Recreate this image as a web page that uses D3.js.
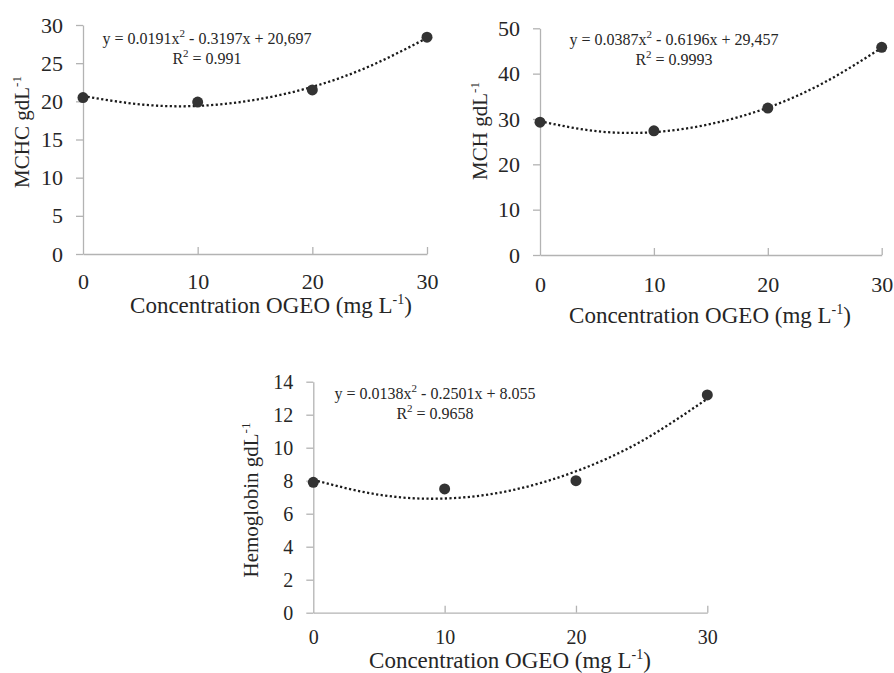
<!DOCTYPE html>
<html>
<head>
<meta charset="utf-8">
<script src="https://cdn.jsdelivr.net/npm/d3@7"></script>
<style>
  body { margin: 0; background: #fff; }
  svg { display: block; font-family: "Liberation Serif", "Times New Roman", serif; }
</style>
</head>
<body>
<svg id="chart" width="894" height="673"></svg>
<script>
// concentrations (mg L-1)
const concentrations = [0, 10, 20, 30];
const xTicks = [0, 10, 20, 30];

const mchcValues = [20.5, 19.9, 21.5, 28.4];
const mchValues = [29.3, 27.4, 32.4, 45.8];
const hemoValues = [7.9, 7.5, 8.0, 13.2];

// trendline, read at every 5 mg L-1
const trendX = [0, 5, 10, 15, 20, 25, 30];
const mchcTrend = [20.7, 19.6, 19.4, 20.2, 21.9, 24.6, 28.3];
const mchTrend = [29.5, 27.3, 27.1, 28.9, 32.5, 38.1, 45.7];
const hemoTrend = [8.05, 7.15, 6.92, 7.4, 8.57, 10.4, 12.97];

const mchcTicks = [0, 5, 10, 15, 20, 25, 30];
const mchTicks = [0, 10, 20, 30, 40, 50];
const hemoTicks = [0, 2, 4, 6, 8, 10, 12, 14];

const mchcEquation = ["0.0191", "0.3197", "20,697", "0.991"];
const mchEquation = ["0.0387", "0.6196", "29,457", "0.9993"];
const hemoEquation = ["0.0138", "0.2501", "8.055", "0.9658"];

const svg = d3.select("#chart");
const axisColor = "#b3b3b3";
const textColor = "#262626";

const panels = [
    { name: "MCHC", values: mchcValues, trend: mchcTrend, ticks: mchcTicks, eq: mchcEquation,
      x0: 83, x1: 427, y0: 254, y1: 25, tickFont: 22, titleX: 22, titleY: 132,
      titleCX: 271, titleBase: 313, eqX: 207, eqY: 44, xPad: 19 },
    { name: "MCH", values: mchValues, trend: mchTrend, ticks: mchTicks, eq: mchEquation,
      x0: 540, x1: 881.7, y0: 255, y1: 28.3, tickFont: 22, titleX: 480, titleY: 131,
      titleCX: 710, titleBase: 323, eqX: 674, eqY: 45, xPad: 21 },
    { name: "Hemoglobin", values: hemoValues, trend: hemoTrend, ticks: hemoTicks, eq: hemoEquation,
      x0: 313.3, x1: 707.3, y0: 612.7, y1: 381.7, tickFont: 20, titleX: 251, titleY: 500,
      titleCX: 510, titleBase: 668, eqX: 435, eqY: 399, xPad: 17 }
];

panels.forEach(p => drawPanel(p));

function drawPanel(p) {
    const scX = d3.scaleLinear().domain([0, 30]).range([p.x0, p.x1]);
    const scY = d3.scaleLinear().domain([0, d3.max(p.ticks)]).range([p.y0, p.y1]);

    const g = svg.append("g");

    // y axis
    const gy = g.append("g")
        .attr("transform", `translate(${p.x0},0)`)
        .call(d3.axisLeft(scY).tickValues(p.ticks).tickSize(7).tickSizeOuter(0).tickPadding(13));

    // x axis, ticks pointing up
    const gx = g.append("g")
        .attr("transform", `translate(0,${p.y0})`)
        .call(d3.axisBottom(scX).tickValues(xTicks).tickSize(-7).tickSizeOuter(0).tickPadding(p.xPad));

    [gx, gy].forEach(a => {
        a.attr("font-family", "'Liberation Serif', 'Times New Roman', serif")
            .attr("font-size", p.tickFont);
        a.selectAll("path, line").attr("stroke", axisColor).attr("stroke-width", 1.3);
        a.selectAll("text").attr("fill", textColor);
    });
    gx.select(".tick line").remove(); // no tick on the y axis itself

    // x axis title
    const xt = g.append("text")
        .attr("x", p.titleCX)
        .attr("y", p.titleBase)
        .attr("text-anchor", "middle")
        .attr("fill", textColor)
        .style("font-size", "23px");
    xt.append("tspan").text("Concentration OGEO (mg L");
    xt.append("tspan").attr("dy", -9).style("font-size", "14px").text("-1");
    xt.append("tspan").attr("dy", 9).text(")");

    // y axis title
    const yt = g.append("text")
        .attr("transform", `translate(${p.titleX},${p.titleY}) rotate(-90)`)
        .attr("text-anchor", "middle")
        .attr("dy", "0.35em")
        .attr("fill", textColor)
        .style("font-size", "21px");
    yt.append("tspan").text(p.name + " gdL");
    yt.append("tspan").attr("dy", -8).style("font-size", "13px").text("-1");

    // trendline
    const line = d3.line()
        .x((d, i) => scX(trendX[i]))
        .y(d => scY(d))
        .curve(d3.curveNatural);

    g.append("path")
        .datum(p.trend)
        .attr("d", line)
        .attr("fill", "none")
        .attr("stroke", "#1a1a1a")
        .attr("stroke-width", 2.3)
        .attr("stroke-dasharray", "2.2,2.4");

    // points
    g.selectAll(".pt")
        .data(p.values)
        .enter()
        .append("circle")
        .attr("class", "pt")
        .attr("cx", (d, i) => scX(concentrations[i]))
        .attr("cy", d => scY(d))
        .attr("r", 5.5)
        .attr("fill", "#333");

    // equation label
    const eq = g.append("text")
        .attr("x", p.eqX)
        .attr("y", p.eqY)
        .attr("text-anchor", "middle")
        .attr("fill", textColor)
        .style("font-size", "16px");
    eq.append("tspan").text(`y = ${p.eq[0]}x`);
    eq.append("tspan").attr("dy", -7).style("font-size", "11px").text("2");
    eq.append("tspan").attr("dy", 7).text(` - ${p.eq[1]}x + ${p.eq[2]}`);

    const r2 = g.append("text")
        .attr("x", p.eqX)
        .attr("y", p.eqY + 20)
        .attr("text-anchor", "middle")
        .attr("fill", textColor)
        .style("font-size", "16px");
    r2.append("tspan").text("R");
    r2.append("tspan").attr("dy", -7).style("font-size", "11px").text("2");
    r2.append("tspan").attr("dy", 7).text(` = ${p.eq[3]}`);
}
</script>
</body>
</html>
